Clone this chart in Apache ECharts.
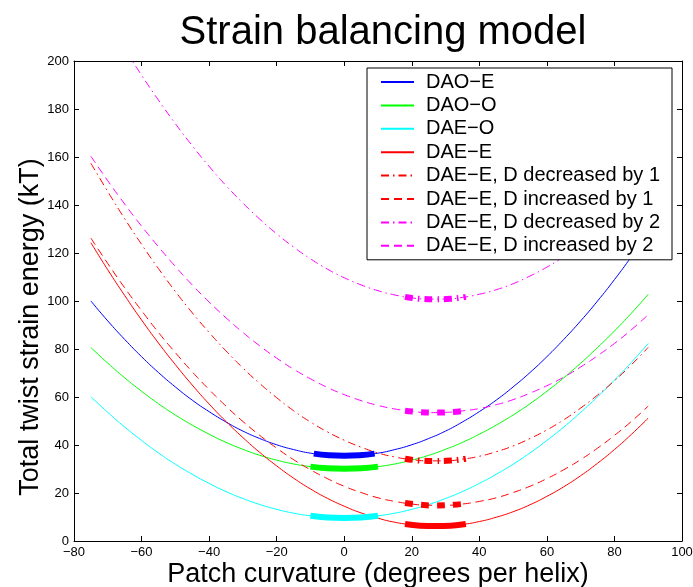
<!DOCTYPE html>
<html>
<head>
<meta charset="utf-8">
<script src="https://cdn.jsdelivr.net/npm/echarts@6/dist/echarts.min.js"></script>
<style>
html,body{margin:0;padding:0;background:#fff;}
#chart{width:693px;height:587px;}
</style>
</head>
<body>
<div id="chart"></div>
<script>
// ---- data ----
const curvature = [-75, -70, -65, -60, -55, -50, -45, -40, -35, -30, -25, -20, -15, -10, -5, 0,
  5, 10, 15, 20, 25, 30, 35, 40, 45, 50, 55, 60, 65, 70, 75, 80, 85, 90];
const daoE = [100.0, 91.7, 84.0, 76.8, 70.2, 64.2, 58.7, 53.9, 49.6, 45.8, 42.7, 40.1, 38.1, 36.6, 35.8, 35.5,
  35.8, 36.6, 38.1, 40.1, 42.7, 45.8, 49.6, 53.9, 58.7, 64.2, 70.2, 76.8, 84.0, 91.7, 100.0, 108.9, 118.4, 128.4];
const daoO = [80.6, 74.1, 68.0, 62.4, 57.2, 52.5, 48.3, 44.5, 41.1, 38.2, 35.7, 33.7, 32.1, 31.0, 30.3, 30.1,
  30.3, 31.0, 32.1, 33.7, 35.7, 38.2, 41.1, 44.5, 48.3, 52.5, 57.2, 62.4, 68.0, 74.1, 80.6, 87.5, 94.9, 102.8];
const daeO = [60.1, 53.6, 47.5, 41.9, 36.7, 32.0, 27.8, 24.0, 20.6, 17.7, 15.2, 13.2, 11.6, 10.5, 9.8, 9.6,
  9.8, 10.5, 11.6, 13.2, 15.2, 17.7, 20.6, 24.0, 27.8, 32.0, 36.7, 41.9, 47.5, 53.6, 60.1, 67.0, 74.4, 82.3];
const daeE = [124.3, 113.0, 102.3, 92.1, 82.5, 73.5, 65.0, 57.1, 49.8, 43.1, 36.9, 31.3, 26.2, 21.7, 17.8, 14.5,
  11.7, 9.5, 7.8, 6.8, 6.3, 6.3, 6.9, 8.1, 9.9, 12.2, 15.1, 18.6, 22.6, 27.2, 32.4, 38.1, 44.4, 51.2];
const daeEdec1 = [157.4, 145.6, 134.3, 123.6, 113.5, 104.0, 95.1, 86.9, 79.2, 72.1, 65.6, 59.7, 54.3, 49.6, 45.5, 42.0,
  39.1, 36.7, 35.0, 33.9, 33.4, 33.4, 34.1, 35.3, 37.2, 39.6, 42.7, 46.3, 50.5, 55.4, 60.8, 66.8, 73.4, 80.7];
const daeEinc1 = [126.2, 115.6, 105.5, 96.0, 86.9, 78.5, 70.5, 63.1, 56.2, 49.8, 44.0, 38.7, 33.9, 29.7, 26.0, 22.8,
  20.2, 18.0, 16.5, 15.4, 14.9, 14.9, 15.4, 16.5, 18.0, 20.2, 22.8, 26.0, 29.7, 33.9, 38.7, 44.0, 49.8, 56.2];
const daeEdec2 = [229.1, 216.8, 205.1, 194.1, 183.7, 173.9, 164.7, 156.1, 148.1, 140.8, 134.1, 128.0, 122.5, 117.6, 113.3, 109.7,
  106.7, 104.3, 102.5, 101.3, 100.8, 100.8, 101.5, 102.8, 104.7, 107.2, 110.4, 114.1, 118.5, 123.5, 129.1, 135.4, 142.2, 149.7];
const daeEinc2 = [160.3, 150.1, 140.4, 131.2, 122.6, 114.4, 106.7, 99.6, 93.0, 86.9, 81.3, 76.2, 71.6, 67.6, 64.0, 61.0,
  58.5, 56.5, 55.0, 54.0, 53.5, 53.6, 54.2, 55.2, 56.8, 58.9, 61.6, 64.7, 68.3, 72.5, 77.2, 82.3, 88.0, 94.3];

// highlighted (thick) ranges near the minima
const thickX_daoE = [-9, -4.5, 0, 4.5, 9];
const thickX_daoO = [-10, -5, 0, 5, 10];
const thickX_daeE = [18, 22.5, 27, 31.5, 36];
const thick_daoE  = [36.4, 35.7, 35.5, 35.7, 36.4];
const thick_daoO  = [31.0, 30.3, 30.1, 30.3, 31.0];
const thick_daeO  = [10.5, 9.8, 9.6, 9.8, 10.5];
const thick_daeE  = [7.1, 6.4, 6.2, 6.4, 7.1];
const thick_dec1  = [34.3, 33.5, 33.3, 33.5, 34.3];
const thick_inc1  = [15.8, 15.1, 14.8, 15.0, 15.6];
const thick_dec2  = [101.7, 100.9, 100.7, 100.9, 101.7];
const thick_inc2  = [54.3, 53.7, 53.5, 53.7, 54.3];

const names = ['DAO\u2212E', 'DAO\u2212O', 'DAE\u2212O', 'DAE\u2212E',
  'DAE\u2212E, D decreased by 1', 'DAE\u2212E, D increased by 1',
  'DAE\u2212E, D decreased by 2', 'DAE\u2212E, D increased by 2'];
const xTicks = [-80, -60, -40, -20, 0, 20, 40, 60, 80, 100];
const yTicks = [0, 20, 40, 60, 80, 100, 120, 140, 160, 180, 200];

// ---- styles ----
const FONT = '"Liberation Sans", Arial, Helvetica, sans-serif';
const DASH = [8, 5];
const DASHDOT = [8, 4, 1.5, 4];
const pair = (xs, ys) => xs.map((x, i) => [x, ys[i]]);

function thin(name, ys, color, type) {
  return {
    name: name, type: 'line', data: pair(curvature, ys), smooth: true,
    symbol: 'none', showSymbol: false, clip: true, z: 2,
    lineStyle: { color: color, width: 1, type: type }, itemStyle: { color: color },
    emphasis: { disabled: true }, silent: true
  };
}
function thick(name, xs, ys, color, type) {
  return {
    name: name, type: 'line', data: pair(xs, ys), smooth: true,
    symbol: 'none', showSymbol: false, z: 3,
    lineStyle: { color: color, width: 6, type: type, cap: 'butt' },
    emphasis: { disabled: true }, silent: true
  };
}

const series = [
  thin(names[0], daoE, '#0000ff', 'solid'),
  thin(names[1], daoO, '#00ff00', 'solid'),
  thin(names[2], daeO, '#00ffff', 'solid'),
  thin(names[3], daeE, '#ff0000', 'solid'),
  thin(names[4], daeEdec1, '#ff0000', DASHDOT),
  thin(names[5], daeEinc1, '#ff0000', DASH),
  thin(names[6], daeEdec2, '#ff00ff', DASHDOT),
  thin(names[7], daeEinc2, '#ff00ff', DASH),
  thick('t0', thickX_daoE, thick_daoE, '#0000ff', 'solid'),
  thick('t1', thickX_daoO, thick_daoO, '#00ff00', 'solid'),
  thick('t2', thickX_daoO, thick_daeO, '#00ffff', 'solid'),
  thick('t3', thickX_daeE, thick_daeE, '#ff0000', 'solid'),
  thick('t4', thickX_daeE, thick_dec1, '#ff0000', [8, 5, 1.5, 5]),
  thick('t5', thickX_daeE, thick_inc1, '#ff0000', [8, 8]),
  thick('t6', thickX_daeE, thick_dec2, '#ff00ff', [8, 5, 1.5, 5]),
  thick('t7', thickX_daeE, thick_inc2, '#ff00ff', [8, 8])
];

const minus = v => String(v).replace('-', '\u2212');
const axisCommon = {
  type: 'value', splitLine: { show: false },
  axisLine: { show: true, onZero: false, lineStyle: { color: '#000', width: 1 } },
  axisTick: { show: true, inside: true, length: 5, lineStyle: { color: '#000' } }
};

const chart = echarts.init(document.getElementById('chart'), null, { renderer: 'canvas' });
chart.setOption({
  animation: false,
  backgroundColor: '#fff',
  textStyle: { fontFamily: FONT },
  title: {
    text: 'Strain balancing model', left: 378, textAlign: 'center', top: 8,
    textStyle: { fontSize: 40, fontWeight: 'normal', color: '#000', fontFamily: FONT }
  },
  grid: { left: 74, right: 11, top: 61, bottom: 46, containLabel: false, outerBoundsMode: 'none' },
  legend: {
    data: names, orient: 'vertical', left: 367, top: 68,
    padding: [4, 12, 4, 13], itemGap: 3.4, itemWidth: 33, itemHeight: 14,
    backgroundColor: '#fff', borderColor: '#000', borderWidth: 1, borderRadius: 0,
    selectedMode: false,
    itemStyle: { opacity: 0, borderWidth: 0 },
    textStyle: { fontSize: 20, lineHeight: 20, color: '#000', fontFamily: FONT, padding: [0, 0, 0, 7] }
  },
  xAxis: [
    Object.assign({}, axisCommon, {
      position: 'bottom', min: xTicks[0], max: xTicks[xTicks.length - 1], interval: 20,
      axisLabel: { show: true, fontSize: 13, color: '#000', margin: 5, fontFamily: FONT, formatter: minus },
      name: 'Patch curvature (degrees per helix)', nameLocation: 'middle', nameGap: 20,
      nameMoveOverlap: false,
      nameTextStyle: { fontSize: 27, color: '#000', fontFamily: FONT }
    }),
    Object.assign({}, axisCommon, {
      position: 'top', min: xTicks[0], max: xTicks[xTicks.length - 1], interval: 20,
      axisLabel: { show: false }
    })
  ],
  yAxis: [
    Object.assign({}, axisCommon, {
      position: 'left', min: yTicks[0], max: yTicks[yTicks.length - 1], interval: 20,
      axisLabel: { show: true, fontSize: 13, color: '#000', margin: 5, fontFamily: FONT, formatter: minus },
      name: 'Total twist strain energy (kT)', nameLocation: 'middle', nameGap: 30,
      nameMoveOverlap: false,
      nameTextStyle: { fontSize: 27, color: '#000', fontFamily: FONT, padding: [0, 52, 0, 0] }
    }),
    Object.assign({}, axisCommon, {
      position: 'right', min: yTicks[0], max: yTicks[yTicks.length - 1], interval: 20,
      axisLabel: { show: false }
    })
  ],
  series: series
});
</script>
</body>
</html>
